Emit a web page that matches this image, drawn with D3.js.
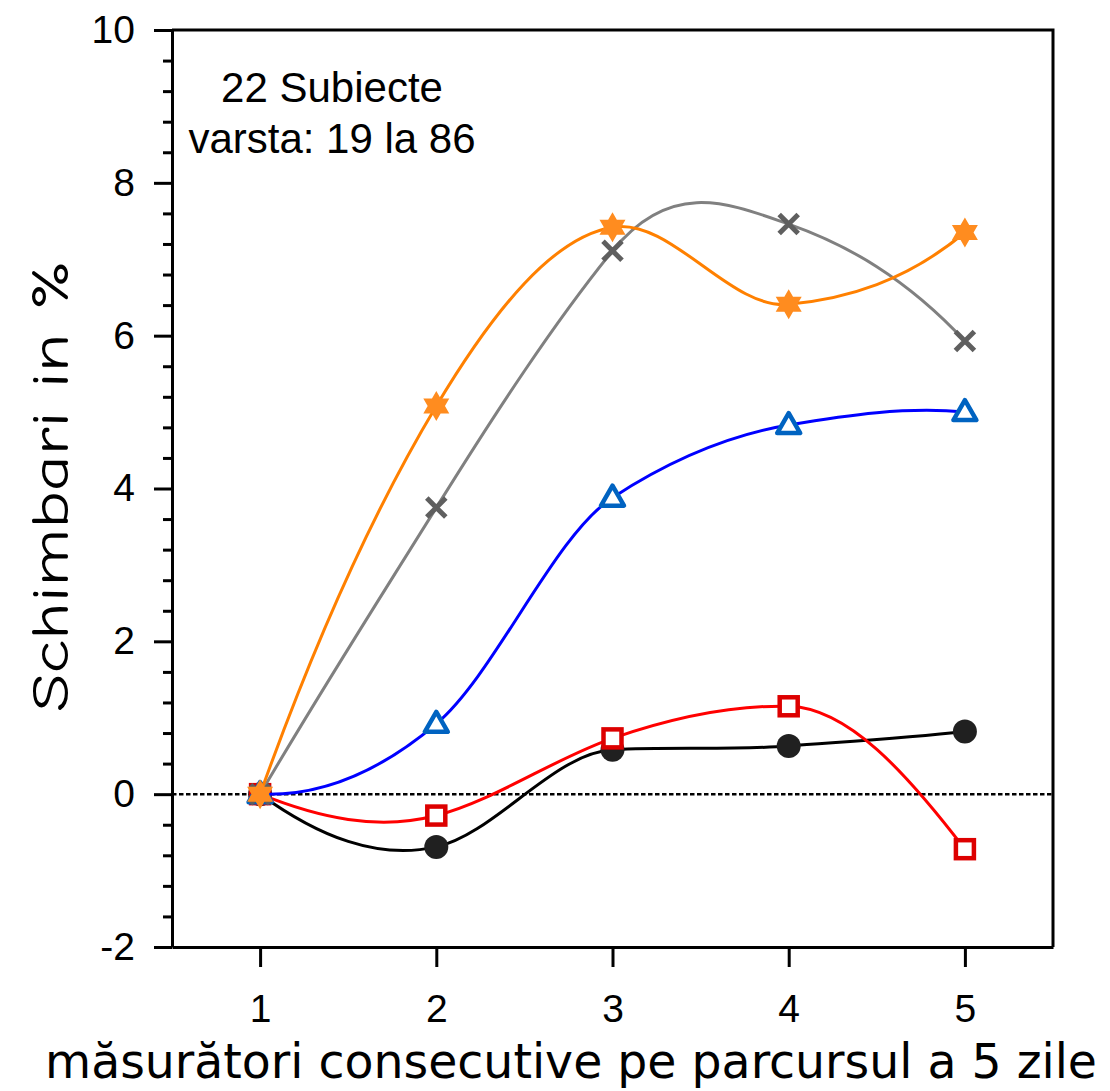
<!DOCTYPE html>
<html>
<head>
<meta charset="utf-8">
<script src="https://cdn.jsdelivr.net/npm/d3@7"></script>
<style>
  body { margin: 0; background: #fff; }
  svg { display: block; }
</style>
</head>
<body>
<svg id="chart" width="1110" height="1091"></svg>
<script>
// Measurement days (x) and percentage change for each group
const days = [1, 2, 3, 4, 5];
const circleValues   = [0, -0.69, 0.58, 0.63, 0.82];
const squareValues   = [0, -0.28, 0.73, 1.15, -0.72];
const triangleValues = [0, 0.92, 3.88, 4.83, 5.00];
const crossValues    = [0, 3.75, 7.11, 7.46, 5.93];
const starValues     = [0, 5.08, 7.42, 6.41, 7.35];

const yMajorTicks = [-2, 0, 2, 4, 6, 8, 10];
const xTickValues = [1, 2, 3, 4, 5];
const noteLines = ["22 Subiecte", "varsta: 19 la 86"];
const xTitle = "măsurători consecutive pe parcursul a 5 zile";
const yTitle = "Schimbari in %";

const svg = d3.select("#chart");
const plot = { left: 172, top: 30, right: 1053, bottom: 947 };

const x = d3.scaleLinear().domain([0.5, 5.5]).range([plot.left, plot.right]);
const y = d3.scaleLinear().domain([-2, 10]).range([plot.bottom, plot.top]);

const tickFont = "Liberation Sans, Arial, sans-serif";

// Frame (top and right edges)
svg.append("path")
  .attr("d", `M${plot.left},${plot.top}H${plot.right}V${plot.bottom}`)
  .attr("fill", "none").attr("stroke", "#000").attr("stroke-width", 3);

// Minor y ticks every 0.4
const minorTicks = d3.range(-2, 10.001, 0.4).filter(v => !yMajorTicks.some(m => Math.abs(m - v) < 1e-6));
svg.append("g")
  .attr("transform", `translate(${plot.left},0)`)
  .call(d3.axisLeft(y).tickValues(minorTicks).tickSize(9).tickFormat(""))
  .call(g => g.select(".domain").remove())
  .call(g => g.selectAll("line").attr("stroke-width", 3));

// Major y axis
svg.append("g")
  .attr("transform", `translate(${plot.left},0)`)
  .call(d3.axisLeft(y).tickValues(yMajorTicks).tickSize(18).tickSizeOuter(0).tickPadding(19).tickFormat(d => String(d)))
  .call(g => g.select(".domain").attr("stroke-width", 3))
  .call(g => g.selectAll("line").attr("stroke-width", 3))
  .call(g => g.selectAll("text").attr("font-family", tickFont).attr("font-size", 39).attr("fill", "#000"));

// x axis
svg.append("g")
  .attr("transform", `translate(0,${plot.bottom})`)
  .call(d3.axisBottom(x).tickValues(xTickValues).tickSize(20).tickSizeOuter(0).tickPadding(27).tickFormat(d => String(d)))
  .call(g => g.select(".domain").attr("stroke-width", 3))
  .call(g => g.selectAll("line").attr("stroke-width", 3))
  .call(g => g.selectAll("text").attr("font-family", tickFont).attr("font-size", 39).attr("fill", "#000"));

// Zero reference line
svg.append("line")
  .attr("x1", plot.left).attr("x2", plot.right)
  .attr("y1", y(0)).attr("y2", y(0))
  .attr("stroke", "#000").attr("stroke-width", 2.5).attr("stroke-dasharray", "4.5,2.5");

// Akima spline through the points, drawn as cubic Bezier segments
function akimaPath(xs, ys) {
  const n = xs.length;
  const m = [];
  for (let i = 0; i < n - 1; i++) m.push((ys[i + 1] - ys[i]) / (xs[i + 1] - xs[i]));
  // slopes extended by two extrapolated values at each end; ext[k] = m[k-2]
  const ext = [0, 0, ...m, 0, 0];
  ext[1] = 2 * m[0] - m[1];
  ext[0] = 2 * ext[1] - m[0];
  ext[n + 1] = 2 * m[n - 2] - m[n - 3];
  ext[n + 2] = 2 * ext[n + 1] - m[n - 2];
  const t = [];
  for (let i = 0; i < n; i++) {
    const m1 = ext[i], m2 = ext[i + 1], m3 = ext[i + 2], m4 = ext[i + 3];
    const w1 = Math.abs(m4 - m3), w2 = Math.abs(m2 - m1);
    t.push(w1 + w2 > 1e-12 ? (w1 * m2 + w2 * m3) / (w1 + w2) : (m2 + m3) / 2);
  }
  const p = d3.path();
  p.moveTo(x(xs[0]), y(ys[0]));
  for (let i = 0; i < n - 1; i++) {
    const h = xs[i + 1] - xs[i];
    p.bezierCurveTo(
      x(xs[i] + h / 3), y(ys[i] + t[i] * h / 3),
      x(xs[i + 1] - h / 3), y(ys[i + 1] - t[i + 1] * h / 3),
      x(xs[i + 1]), y(ys[i + 1]));
  }
  return p.toString();
}

// Marker shapes
const hexagram = (R) => {
  const r = R / Math.sqrt(3);
  const pts = d3.range(12).map(i => {
    const a = -Math.PI / 2 + i * Math.PI / 6;
    const rad = i % 2 === 0 ? R : r;
    return [rad * Math.cos(a), rad * Math.sin(a)];
  });
  return d3.line()(pts) + "Z";
};
const trianglePath = (s) => {
  const h = s * Math.sqrt(3) / 2;
  return d3.line()([[0, -h * 0.6], [s / 2, h * 0.4], [-s / 2, h * 0.4]]) + "Z";
};

const series = [
  { name: "circle",   values: circleValues,   line: "#000000",
    draw: g => g.append("circle").attr("r", 12).attr("fill", "#202020") },
  { name: "square",   values: squareValues,   line: "#ff0000",
    draw: g => g.append("rect").attr("x", -9).attr("y", -9).attr("width", 18).attr("height", 18)
      .attr("fill", "#fff").attr("stroke", "#dd0000").attr("stroke-width", 4.5) },
  { name: "triangle", values: triangleValues, line: "#0000ff",
    draw: g => g.append("path").attr("d", trianglePath(23))
      .attr("fill", "#fff").attr("stroke", "#0063c1").attr("stroke-width", 4.5).attr("stroke-linejoin", "round") },
  { name: "cross",    values: crossValues,    line: "#808080",
    draw: g => g.append("path").attr("d", "M-9.5,-9.5L9.5,9.5M-9.5,9.5L9.5,-9.5")
      .attr("stroke", "#5f5f5f").attr("stroke-width", 5).attr("fill", "none") },
  { name: "star",     values: starValues,     line: "#ff8000",
    draw: g => g.append("path").attr("d", hexagram(15)).attr("fill", "#ff8c1f") }
];

series.forEach(s => {
  const pts = days.map((d, i) => [d, s.values[i]]);
  const grp = svg.append("g").attr("class", "series-" + s.name);
  grp.append("path")
    .attr("d", akimaPath(days, s.values))
    .attr("fill", "none").attr("stroke", s.line).attr("stroke-width", 3);
  grp.selectAll("g.mark").data(pts).join("g")
    .attr("class", "mark")
    .attr("transform", d => `translate(${x(d[0])},${y(d[1])})`)
    .each(function () { s.draw(d3.select(this)); });
});

// Annotation
svg.append("text")
  .attr("x", 332).attr("y", 102)
  .attr("text-anchor", "middle")
  .attr("font-family", tickFont).attr("font-size", 42).attr("fill", "#000")
  .selectAll("tspan").data(noteLines).join("tspan")
  .attr("x", 332).attr("dy", (d, i) => i === 0 ? 0 : 51)
  .text(d => d);

// Axis titles
svg.append("text")
  .attr("x", 571).attr("y", 1078)
  .attr("text-anchor", "middle")
  .attr("font-family", "DejaVu Sans, Verdana, sans-serif").attr("font-size", 48)
  .attr("textLength", 1052).attr("lengthAdjust", "spacingAndGlyphs")
  .attr("fill", "#000")
  .text(xTitle);

svg.append("text")
  .attr("transform", `translate(68,486) rotate(-90)`)
  .attr("text-anchor", "middle")
  .attr("font-family", "'Comic Sans MS', 'Comic Neue', 'DejaVu Sans', sans-serif").attr("font-size", 52)
  .attr("textLength", 452).attr("lengthAdjust", "spacingAndGlyphs")
  .attr("fill", "#000")
  .text(yTitle);
</script>
</body>
</html>
